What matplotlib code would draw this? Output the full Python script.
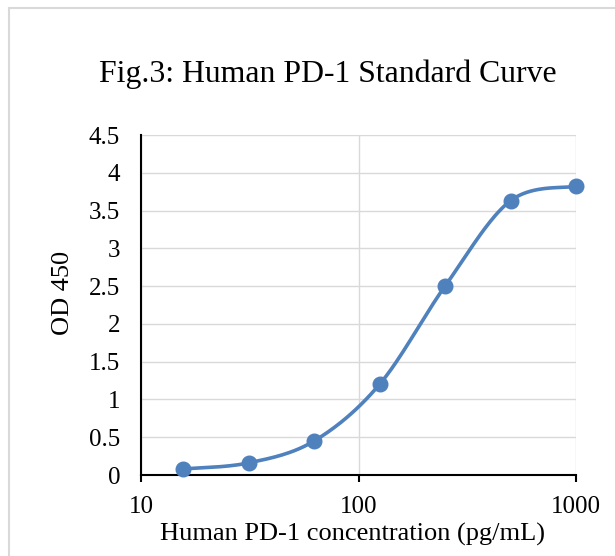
import numpy as np
import matplotlib
matplotlib.use("Agg")
import matplotlib.pyplot as plt
from matplotlib.patches import Rectangle
from matplotlib.ticker import FixedLocator, NullLocator, FixedFormatter

# concentraciones del estandar y lecturas
concentraciones = [15.625, 31.25, 62.5, 125, 250, 500, 1000]
od450 = [0.08, 0.16, 0.45, 1.20, 2.50, 3.63, 3.82]
ticksX = [10, 100, 1000]
etiquetasX = ["10", "100", "1000"]
ticksY = [0, 0.5, 1, 1.5, 2, 2.5, 3, 3.5, 4, 4.5]
etiquetasY = ["0", "0.5", "1", "1.5", "2", "2.5", "3", "3.5", "4", "4.5"]

azul = "#4F81BD"
gris = "#D9D9D9"
plt.rcParams["font.family"] = ["Liberation Serif", "DejaVu Serif"]

def suavizar(xs, ys, n=40):
    # curva tipo Catmull-Rom en espacio log10(x), como la linea suavizada de Excel
    lx = np.log10(xs)
    y = np.array(ys, dtype=float)
    # escalar para que el suavizado sea en "pixeles" aproximados
    sx = 435 / 2.0
    sy = 340 / 4.5
    px = np.concatenate([[lx[0]], lx, [lx[-1]]]) * sx
    py = np.concatenate([[y[0]], y, [y[-1]]]) * sy
    outX, outY = [], []
    for i in range(1, len(px) - 2):
        p0 = np.array([px[i - 1], py[i - 1]])
        p1 = np.array([px[i], py[i]])
        p2 = np.array([px[i + 1], py[i + 1]])
        p3 = np.array([px[i + 2], py[i + 2]])
        c1 = p1 + (p2 - p0) / 6.0
        c2 = p2 - (p3 - p1) / 6.0
        t = np.linspace(0, 1, n)[:, None]
        b = (1 - t) ** 3 * p1 + 3 * (1 - t) ** 2 * t * c1 + 3 * (1 - t) * t ** 2 * c2 + t ** 3 * p2
        outX.extend(b[:, 0])
        outY.extend(b[:, 1])
    return 10 ** (np.array(outX) / sx), np.array(outY) / sy

fig = plt.figure(figsize=(6.15, 5.56), dpi=100)
fig.patches.append(Rectangle((9 / 615, -0.1), 1.2, 1 - 8 / 556 + 0.1, transform=fig.transFigure,
                             fill=False, edgecolor=gris, linewidth=1.5))

ax = fig.add_axes([141 / 615, 1 - 475 / 556, 435 / 615, 340 / 556])
ax.set_xscale("log")
ax.set_xlim(10, 1000)
ax.set_ylim(0, 4.5)

ax.xaxis.set_major_locator(FixedLocator(ticksX))
ax.xaxis.set_major_formatter(FixedFormatter(etiquetasX))
ax.xaxis.set_minor_locator(NullLocator())
ax.yaxis.set_major_locator(FixedLocator(ticksY))
ax.yaxis.set_major_formatter(FixedFormatter(etiquetasY))

ax.grid(True, color=gris, linewidth=1.0)
ax.set_axisbelow(True)
for lado in ["top", "right"]:
    ax.spines[lado].set_visible(False)
ax.spines["left"].set_linewidth(1.5)
ax.spines["bottom"].set_linewidth(1.5)
ax.tick_params(axis="y", length=0, pad=15, labelsize=18)
ax.tick_params(axis="x", length=5, width=1.5, direction="out", pad=10, labelsize=18)

cx, cy = suavizar(concentraciones, od450)
ax.plot(cx, cy, color=azul, linewidth=2.6, solid_capstyle="round", clip_on=False)
ax.plot(concentraciones, od450, "o", color=azul, markersize=10.5, clip_on=False, zorder=5)

fig.text(328 / 615, 1 - 74 / 556, "Fig.3: Human PD-1 Standard Curve", ha="center", va="center", fontsize=22.9)
fig.text(63 / 615, 1 - 293 / 556, "OD 450", ha="center", va="center", rotation=90, fontsize=19)
fig.text(353 / 615, 1 - 534 / 556, "Human PD-1 concentration (pg/mL)", ha="center", va="center", fontsize=19)

fig.savefig("out.png", dpi=100)
